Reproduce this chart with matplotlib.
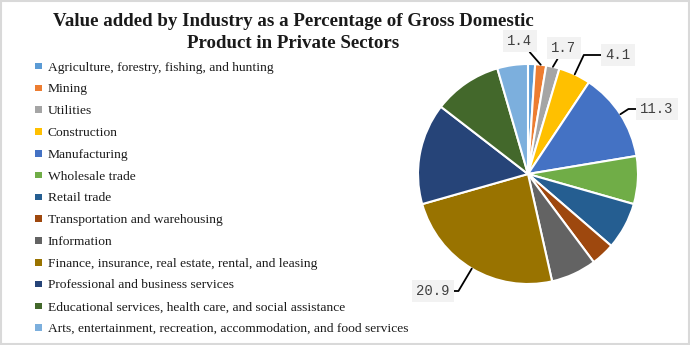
import matplotlib
matplotlib.use("Agg")
import matplotlib.pyplot as plt
import numpy as np
from matplotlib.patches import Rectangle

categories = [
    "Agriculture, forestry, fishing, and hunting",
    "Mining",
    "Utilities",
    "Construction",
    "Manufacturing",
    "Wholesale trade",
    "Retail trade",
    "Transportation and warehousing",
    "Information",
    "Finance, insurance, real estate, rental, and leasing",
    "Professional and business services",
    "Educational services, health care, and social assistance",
    "Arts, entertainment, recreation, accommodation, and food services",
]
values = [0.9, 1.4, 1.7, 4.1, 11.3, 6.1, 6.0, 3.0, 5.8, 20.9, 12.9, 8.7, 3.9]
colors = ["#5B9BD5", "#ED7D31", "#A5A5A5", "#FFC000", "#4472C4", "#70AD47",
          "#255E91", "#9E480E", "#636363", "#997300", "#264478", "#43682B",
          "#7CAFDD"]
labeled = [1, 2, 3, 4, 9]
title_lines = ["Value added by Industry as a Percentage of Gross Domestic",
               "Product in Private Sectors"]

# label box centres in pixel coords and connector style
label_pos = {1: (520, 41), 2: (564, 48), 3: (618, 55), 4: (657, 109), 9: (433, 291)}
elbow = {1: False, 2: False, 3: True, 4: True, 9: True}

W, H = 690, 345
fig = plt.figure(figsize=(W / 100, H / 100), dpi=100)
fig.patch.set_facecolor("white")

cx, cy, R = 528, 174, 110
ax = fig.add_axes([(cx - R) / W, (H - cy - R) / H, 2 * R / W, 2 * R / H])
wedges, _ = ax.pie(values, colors=colors, startangle=90, counterclock=False,
                   radius=1, wedgeprops=dict(edgecolor="white", linewidth=1.5))
ax.set_xlim(-1, 1)
ax.set_ylim(-1, 1)
ax.axis("off")

for i in labeled:
    w = wedges[i]
    th = np.deg2rad((w.theta1 + w.theta2) / 2)
    px, py = np.cos(th), np.sin(th)
    lx, ly = label_pos[i]
    tx, ty = (lx - cx) / R, (cy - ly) / R
    if elbow[i]:
        cs = "angle,angleA=0,angleB=%f,rad=0" % np.rad2deg(th)
    else:
        cs = "arc3"
    ax.annotate(f"{values[i]}", xy=(px, py), xytext=(tx, ty),
                ha="center", va="center", fontsize=10,
                family="Liberation Mono", color="#404040",
                bbox=dict(boxstyle="square,pad=0.3", fc="#F2F2F2", ec="none"),
                arrowprops=dict(arrowstyle="-", color="black", lw=1.3,
                                shrinkA=0, shrinkB=0, connectionstyle=cs),
                annotation_clip=False)

# title
for k, line in enumerate(title_lines):
    fig.text(293 / W, 1 - (26 + 21.7 * k) / H, line,
             ha="center", va="baseline", fontsize=13.6, fontweight="bold",
             family="Liberation Serif", color="#1a1a1a")

# legend (drawn as rows of square swatch + label)
for k, (lab, c) in enumerate(zip(categories, colors)):
    yc = 66 + 21.8 * k
    fig.patches.append(Rectangle((35 / W, 1 - (yc + 3.3) / H), 6.5 / W, 6.5 / H,
                                 transform=fig.transFigure, fc=c, ec="none"))
    fig.text(48 / W, 1 - yc / H, lab, ha="left", va="center_baseline",
             fontsize=9.7, family="Liberation Serif", color="#1a1a1a")

fig.patches.append(Rectangle((0.002, 0.003), 0.996, 0.994, transform=fig.transFigure,
                             fill=False, ec="#D9D9D9", lw=1.5))

fig.savefig("out.png", dpi=100)
